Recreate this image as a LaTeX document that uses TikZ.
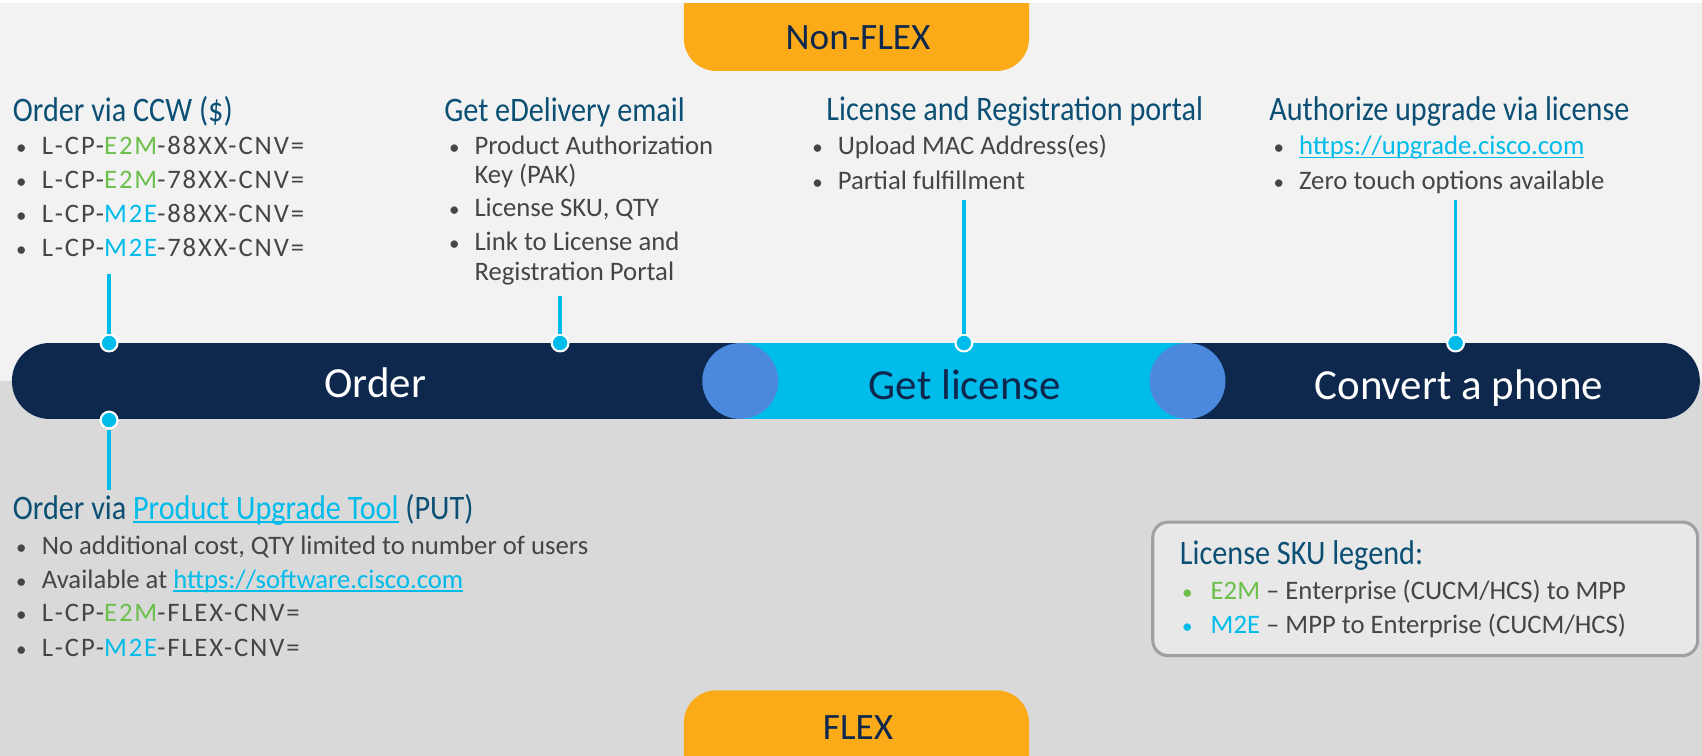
\documentclass[tikz,border=0pt]{standalone}
\usepackage{fontspec}
\setmainfont{Carlito}
\newfontfamily\ttlfont[FakeStretch=0.88]{Carlito}
\newfontfamily\skufont[LetterSpace=7]{Carlito}
\definecolor{navy}{HTML}{0D274D}
\definecolor{cyanc}{HTML}{00BCEB}
\definecolor{circb}{HTML}{4A89DC}
\definecolor{orng}{HTML}{FBAB18}
\definecolor{titleblue}{HTML}{0B4F74}
\definecolor{bodyg}{HTML}{454545}
\definecolor{greenc}{HTML}{6CBF4A}
\definecolor{bgtop}{HTML}{F2F2F2}
\definecolor{bgbot}{HTML}{D9D9D9}
\definecolor{legfill}{HTML}{E8E8E8}
\definecolor{legdraw}{HTML}{A0A0A4}
\newcommand\lnk[1]{{\color{cyanc}\setbox0\hbox{#1}\rlap{\copy0}\rule[-1.8pt]{\wd0}{0.7pt}}}
\newcommand\gE{{\color{greenc}E2M}}
\newcommand\cM{{\color{cyanc}M2E}}
\tikzset{
  ttl/.style={anchor=base west, inner sep=0pt, text=titleblue, font=\ttlfont\fontsize{18}{20}\selectfont},
  itm/.style={anchor=base west, inner sep=0pt, text=bodyg, font=\fontsize{14}{16}\selectfont},
  skuitm/.style={itm, font=\skufont\fontsize{14}{16}\selectfont},
  bul/.style={anchor=base west, inner sep=0pt, text=bodyg, font=\fontsize{11}{14}\selectfont},
  dot/.style={circle, fill=cyanc, draw=white, line width=1.1pt, minimum size=0.31cm, inner sep=0pt},
  conn/.style={cyanc, line width=1.8pt},
  bartxt/.style={anchor=base, inner sep=0pt, font=\fontsize{22.5}{26}\selectfont},
  tabtxt/.style={anchor=base, inner sep=0pt, text=navy, font=\fontsize{19.5}{22}\selectfont},
  tabbox/.style={fill=orng, rounded corners=17pt},
}
\begin{document}
\begin{tikzpicture}[x=0.02cm, y=-0.02cm]
\useasboundingbox (0,0) rectangle (1568,695.6);
\begin{scope}
\clip (0,2.8) rectangle (1568,695.6);
% backgrounds
\fill[bgtop] (0,0) rectangle (1568,351);
\fill[bgbot] (0,351) rectangle (1568,700);
% tabs
\fill[tabbox] (630,-60) rectangle (948,65.4);
\fill[tabbox] (630,636) rectangle (948,760);
\end{scope}
\node[tabtxt] (nonflex) at (790.5,46) {Non-FLEX};
\node[tabtxt] (flex) at (790.5,681) {FLEX};

% bar
\fill[navy, rounded corners=19.8pt] (11,316) rectangle (1566,386);
\fill[cyanc] (682,316) rectangle (1094,386);
\fill[circb] (682,351) circle[radius=35];
\fill[circb] (1094,351) circle[radius=35];
\node[bartxt, text=white] (order) at (345.6,366.4) {Order};
\node[bartxt, text=navy] (getlic) at (889,368) {Get license};
\node[bartxt, text=white] (convert) at (1344,368.5) {Convert a phone};

% connectors
\node[dot] (d1) at (100.5,316) {};
\node[dot] (d2) at (516,316) {};
\node[dot] (d3) at (888,316) {};
\node[dot] (d4) at (1341,316) {};
\node[dot] (d5) at (100.5,387) {};
\coordinate (e1) at (100.5,252);
\coordinate (e2) at (516,273);
\coordinate (e3) at (888,184);
\coordinate (e4) at (1341,184);
\coordinate (e5) at (100.5,451);
\draw[conn] (e1) -- (d1.north);
\draw[conn] (e2) -- (d2.north);
\draw[conn] (e3) -- (d3.north);
\draw[conn] (e4) -- (d4.north);
\draw[conn] (e5) -- (d5.south);

% block 1
\node[ttl] (t1) at (11.5,112) {Order via CCW (\$)};
\node[bul] (b11) at (14.4,142.8) {•};
\node[bul] (b12) at (14.4,174) {•};
\node[bul] (b13) at (14.4,205) {•};
\node[bul] (b14) at (14.4,236.5) {•};
\node[skuitm] (i11) at (38.2,142.8) {L-CP-\gE-88XX-CNV=};
\node[skuitm] (i12) at (38.2,174) {L-CP-\gE-78XX-CNV=};
\node[skuitm] (i13) at (38.2,205) {L-CP-\cM-88XX-CNV=};
\node[skuitm] (i14) at (38.2,236.5) {L-CP-\cM-78XX-CNV=};

% block 2
\node[ttl] (t2) at (409,112) {Get eDelivery email};
\node[bul] (b21) at (413.4,142.8) {•};
\node[bul] (b22) at (413.4,199.6) {•};
\node[bul] (b23) at (413.4,230.9) {•};
\node[itm] (i21) at (436.8,142.8) {Product Authorization};
\node[itm] (i21b) at (436.8,168.9) {Key (PAK)};
\node[itm] (i22) at (436.8,199.6) {License SKU, QTY};
\node[itm] (i23) at (436.8,230.9) {Link to License and};
\node[itm] (i23b) at (436.8,258.6) {Registration Portal};

% block 3
\node[ttl] (t3) at (761,111.2) {License and Registration portal};
\node[bul] (b31) at (748,142.8) {•};
\node[bul] (b32) at (748,174.4) {•};
\node[itm] (i31) at (771.5,142.8) {Upload MAC Address(es)};
\node[itm] (i32) at (771.5,174.4) {Partial fulfillment};

% block 4
\node[ttl] (t4) at (1169,111.2) {Authorize upgrade via license};
\node[bul] (b41) at (1173,142.8) {•};
\node[bul] (b42) at (1173,174.4) {•};
\node[itm] (i41) at (1196.5,142.8) {\lnk{https://upgrade.cisco.com}};
\node[itm] (i42) at (1196.5,174.4) {Zero touch options available};

% block 5
\node[ttl] (t5) at (11.5,478.5) {Order via \lnk{Product Upgrade Tool} (PUT)};
\node[bul] (b51) at (14.4,510.4) {•};
\node[bul] (b52) at (14.4,542) {•};
\node[bul] (b53) at (14.4,572.8) {•};
\node[bul] (b54) at (14.4,604.4) {•};
\node[itm] (i51) at (38.2,510.4) {No additional cost, QTY limited to number of users};
\node[itm] (i52) at (38.2,542) {Available at \lnk{https://software.cisco.com}};
\node[skuitm] (i53) at (38.2,572.8) {L-CP-\gE-FLEX-CNV=};
\node[skuitm] (i54) at (38.2,604.4) {L-CP-\cM-FLEX-CNV=};

% legend
\draw[legdraw, fill=legfill, line width=1.6pt, rounded corners=8pt] (1062,481) rectangle (1564,604);
\node[ttl] (lt) at (1086.7,520) {License SKU legend:};
\node[bul, text=greenc] (lb1) at (1088.8,551.9) {•};
\node[bul, text=cyanc] (lb2) at (1088.8,583.5) {•};
\node[itm] (li1) at (1115,551.9) {\gE{} -- Enterprise (CUCM/HCS) to MPP};
\node[itm] (li2) at (1115,583.5) {\cM{} -- MPP to Enterprise (CUCM/HCS)};
\end{tikzpicture}
\end{document}
